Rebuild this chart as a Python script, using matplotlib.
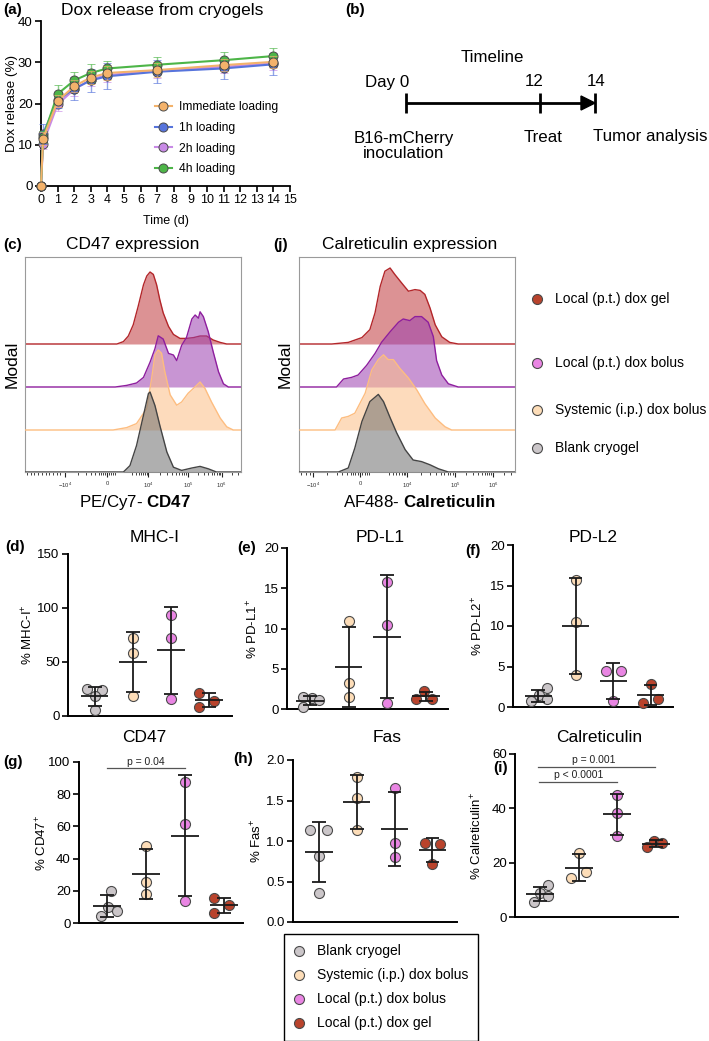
import numpy as np
import matplotlib
matplotlib.use("Agg")
import matplotlib.pyplot as plt
from matplotlib.lines import Line2D
from matplotlib.patches import Polygon

plt.rcParams.update({
    'font.family': ['Liberation Sans', 'DejaVu Sans'],
    'mathtext.fontset': 'custom',
    'mathtext.rm': 'Liberation Sans',
    'mathtext.bf': 'Liberation Sans:bold',
    'mathtext.it': 'Liberation Sans:italic',
    'axes.linewidth': 1.3,
})

# ---------------- DATA ----------------
# (a) Dox release
RELEASE_T = [0, 0.125, 1, 2, 3, 4, 7, 11, 14]
REL_IMM = [0, 11.5, 20.6, 24.2, 26.3, 27.4, 28.1, 29.3, 30.1]
REL_1H = [0, 12.7, 20.8, 23.6, 25.6, 26.6, 27.7, 28.5, 29.5]
REL_2H = [0, 10.3, 19.8, 23.4, 25.8, 26.9, 27.9, 28.9, 29.7]
REL_4H = [0, 11.9, 22.3, 25.6, 27.4, 28.5, 29.4, 30.5, 31.5]
SD_IMM = [0, 1.5, 1.4, 1.5, 1.5, 1.6, 1.6, 1.5, 1.5]
SD_1H = [0, 2.4, 1.8, 2.8, 2.8, 3.2, 2.8, 2.6, 2.7]
SD_2H = [0, 1.4, 1.5, 1.5, 1.6, 1.6, 1.6, 1.5, 1.5]
SD_4H = [0, 1.5, 2.2, 2.0, 2.1, 1.9, 1.9, 2.0, 1.9]
RELEASE_LABELS = ['Immediate loading', '1h loading', '2h loading', '4h loading']

# (b) timeline
TIMELINE_DAYS = ['Day 0', '12', '14']
TIMELINE_EVENTS = ['B16-mCherry\ninoculation', 'Treat', 'Tumor analysis']

# groups
GROUPS = ['Blank cryogel', 'Systemic (i.p.) dox bolus', 'Local (p.t.) dox bolus', 'Local (p.t.) dox gel']

# (c) CD47 histograms: position (biex display units) and % of mode
CD47_GEL_U = [0.24, 0.40, 0.52, 0.64, 0.76, 0.89, 0.97, 1.05, 1.13, 1.21, 1.29, 1.37, 1.50, 1.62, 1.78, 1.94, 2.11, 2.27, 2.43, 2.59, 2.76, 2.92]
CD47_GEL_H = [0, 3, 10, 24, 47, 74, 85, 90, 87, 74, 55, 39, 22, 12, 7, 7, 8, 10, 10, 5, 2, 0]
CD47_BOL_U = [0.20, 0.48, 0.72, 0.89, 1.05, 1.17, 1.25, 1.37, 1.50, 1.62, 1.70, 1.82, 1.94, 2.07, 2.15, 2.23, 2.27, 2.35, 2.47, 2.59, 2.72, 2.84, 2.96]
CD47_BOL_H = [0, 2, 5, 12, 31, 48, 64, 60, 42, 40, 33, 52, 62, 85, 90, 86, 94, 88, 69, 44, 19, 4, 0]
CD47_SYS_U = [0.15, 0.48, 0.72, 0.97, 1.09, 1.17, 1.25, 1.33, 1.41, 1.54, 1.70, 1.82, 1.98, 2.15, 2.27, 2.39, 2.55, 2.76, 2.92, 3.08]
CD47_SYS_H = [0, 3, 8, 27, 65, 94, 100, 96, 73, 44, 31, 35, 46, 54, 60, 52, 35, 15, 4, 0]
CD47_BLK_U = [0.40, 0.56, 0.72, 0.89, 1.01, 1.05, 1.17, 1.29, 1.46, 1.62, 1.82, 2.07, 2.27, 2.47, 2.67]
CD47_BLK_H = [0, 8, 33, 71, 98, 100, 83, 58, 25, 6, 2, 5, 7, 4, 0]

# (j) Calreticulin histograms
CRT_GEL_U = [-0.6, -0.25, 0.04, 0.21, 0.32, 0.43, 0.53, 0.64, 0.74, 0.89, 1.03, 1.17, 1.28, 1.38, 1.49, 1.60, 1.74, 1.91, 2.09]
CRT_GEL_H = [0, 2, 8, 18, 39, 72, 91, 95, 87, 76, 66, 68, 67, 62, 45, 24, 9, 2, 0]
CRT_BOL_U = [-0.5, -0.35, -0.18, -0.04, 0.14, 0.32, 0.46, 0.64, 0.82, 0.92, 1.06, 1.17, 1.31, 1.45, 1.56, 1.63, 1.74, 1.88, 2.09]
CRT_BOL_H = [0, 10, 12, 15, 27, 42, 56, 69, 81, 85, 83, 88, 88, 81, 63, 33, 15, 4, 0]
CRT_SYS_U = [-0.53, -0.39, -0.25, -0.11, 0.11, 0.25, 0.39, 0.50, 0.60, 0.71, 0.85, 1.03, 1.21, 1.38, 1.60, 1.81, 1.95]
CRT_SYS_H = [0, 15, 17, 21, 46, 75, 88, 94, 88, 88, 77, 65, 50, 33, 15, 4, 0]
CRT_BLK_U = [-0.46, -0.25, -0.11, 0.04, 0.21, 0.39, 0.50, 0.64, 0.78, 0.96, 1.13, 1.31, 1.49, 1.67, 1.88]
CRT_BLK_H = [0, 5, 30, 63, 88, 97, 88, 68, 49, 28, 15, 13, 9, 4, 0]

FLOW_TICKLABELS = ['$-10^4$', '0', '$10^4$', '$10^5$', '$10^6$']

# (d)-(i) scatter values per group [blank, systemic, local bolus, local gel]
MHC = [[24.8, 23.9, 18.6, 5.3], [72.5, 58.0, 18.6], [93.6, 72.5, 16.1], [21.4, 14.0, 8.4]]
PDL1 = [[1.45, 1.33, 1.16, 0.25], [10.9, 3.2, 1.5], [15.8, 10.4, 0.8], [2.2, 1.25, 1.25]]
PDL2 = [[0.7, 1.44, 2.35, 1.03], [15.7, 10.5, 3.9], [4.5, 4.45, 0.7], [2.9, 1.03, 0.5]]
CD47 = [[19.9, 9.7, 7.7, 4.3], [47.6, 25.5, 18.2], [87.6, 61.3, 13.7], [15.7, 11.0, 6.4]]
FAS = [[1.14, 1.14, 0.81, 0.36], [1.79, 1.53, 1.13], [1.66, 0.98, 0.80], [0.98, 0.96, 0.72]]
CALR = [[5.5, 9.0, 11.7, 7.8], [23.7, 14.2, 16.6], [45.0, 38.4, 29.8], [28.1, 27.1, 25.6]]

# ---------------- STYLE ----------------
W, H = 709, 1041
fig = plt.figure(figsize=(W / 100, H / 100), dpi=100)


def rect(l, t, r, b):
    return [l / W, 1 - b / H, (r - l) / W, (b - t) / H]


ov = fig.add_axes([0, 0, 1, 1], zorder=10)
ov.set_xlim(0, W)
ov.set_ylim(H, 0)
ov.axis('off')
ov.patch.set_visible(False)


def ftext(x, y, s, **kw):
    kw.setdefault('ha', 'center')
    kw.setdefault('va', 'center')
    ov.text(x, y, s, **kw)


GROUP_COLORS = ['#CBC6C9', '#FDDDB8', '#E985E3', '#B9432C']
EDGE = '#4a4a4a'

# ---------------- (a) ----------------
ax = fig.add_axes(rect(41, 21, 290, 186))
rel_series = [REL_IMM, REL_1H, REL_2H, REL_4H]
rel_sd = [SD_IMM, SD_1H, SD_2H, SD_4H]
rel_cols = ['#F3B26B', '#5774DC', '#C88AE6', '#4DB548']
rel_z = [6, 4, 3, 5]
handles = []
for vals, sd, c, z, lab in zip(rel_series, rel_sd, rel_cols, rel_z, RELEASE_LABELS):
    eb = ax.errorbar(RELEASE_T, vals, yerr=sd, color=c, lw=1.5, marker='o', ms=6.5,
                     mfc=c, mec=EDGE, mew=0.7, ecolor=c, elinewidth=1.0, capsize=3,
                     capthick=1.0, zorder=z)
    for a in list(eb[1]) + list(eb[2]):
        a.set_alpha(0.65)
    for a in eb.get_children():
        a.set_clip_on(False)
    handles.append(Line2D([], [], color=c, lw=1.5, marker='o', ms=6.5, mfc=c, mec=EDGE, mew=0.7))
ax.set_xlim(0, 15)
ax.set_ylim(0, 40)
ax.set_xticks(range(16))
ax.set_yticks([0, 10, 20, 30, 40])
ax.tick_params(axis='x', labelsize=9, length=4, width=1.2, pad=2)
ax.tick_params(axis='y', labelsize=9.5, length=4, width=1.2, pad=2)
ax.spines['top'].set_visible(False)
ax.spines['right'].set_visible(False)
ax.set_xlabel('Time (d)', fontsize=9, labelpad=6)
ftext(12, 103, 'Dox release (%)', fontsize=9.7, rotation=90)
ax.legend(handles, RELEASE_LABELS, loc='upper left', bbox_to_anchor=(155 / W, 1 - 101 / H),
          bbox_transform=fig.transFigure, frameon=False, fontsize=8.7, borderpad=0,
          borderaxespad=0, handlelength=1.4, handletextpad=0.6, labelspacing=0.73)
ftext(162, 10, 'Dox release from cryogels', fontsize=12.5)
ftext(3, 10, '(a)', fontsize=11, fontweight='bold', ha='left')

# ---------------- (b) ----------------
ftext(345, 10, '(b)', fontsize=11, fontweight='bold', ha='left')
TL_X = [406, 540, 595]  # schematic (not-to-scale) positions
TL_Y = 103
ov.plot([TL_X[0], TL_X[2] - 10], [TL_Y, TL_Y], color='black', lw=2, solid_capstyle='butt')
for x in TL_X:
    ov.plot([x, x], [TL_Y - 10, TL_Y + 10], color='black', lw=2, solid_capstyle='butt')
ov.add_patch(Polygon([(TL_X[2] - 14, TL_Y - 7), (TL_X[2], TL_Y), (TL_X[2] - 14, TL_Y + 7)],
                     closed=True, color='black'))
ftext(492, 57, 'Timeline', fontsize=12.2)
ftext(387, 82, TIMELINE_DAYS[0], fontsize=12.2)
ftext(534, 82, TIMELINE_DAYS[1], fontsize=12.2)
ftext(596, 82, TIMELINE_DAYS[2], fontsize=12.2)
ftext(404, 146, TIMELINE_EVENTS[0], fontsize=12.2, linespacing=1.05)
ftext(543, 137, TIMELINE_EVENTS[1], fontsize=12.2)
ftext(593, 137, TIMELINE_EVENTS[2], fontsize=12.2, ha='left')

# ---------------- (c) & (j) ----------------
HIST_LINE = ['#B3262A', '#8E1E9E', '#FDBD80', '#444444']
HIST_FILL = ['#C0393D', '#9B3FAF', '#FDBF85', '#6E6E6E']
BASES = [128, 85, 42, 0]
SCALE = 0.8


def flow_panel(l, t, r, b, u0, unit, tick_pos, curves):
    ax = fig.add_axes(rect(l, t, r, b))
    xmin, xmax = (l - u0) / unit, (r - u0) / unit
    for k, (u, h) in enumerate(curves):
        xs = np.concatenate([[xmin], u, [xmax]])
        hs = np.concatenate([[0], h, [0]]) * SCALE + BASES[k]
        ax.fill_between(xs, BASES[k], hs, color=HIST_FILL[k], alpha=0.55, lw=0, zorder=1 + k)
        ax.plot(xs, hs, color=HIST_LINE[k], lw=1.0, zorder=1.5 + k)
    ax.set_xlim(xmin, xmax)
    ax.set_ylim(0, b - t)
    ax.set_yticks([])
    for s in ax.spines.values():
        s.set_color('#9a9a9a')
        s.set_linewidth(0.8)
    ax.set_xticks(tick_pos)
    ax.set_xticklabels(FLOW_TICKLABELS, fontsize=4.2, color='#333')
    ax.tick_params(axis='x', length=3.5, width=0.8, pad=3, color='#222')
    p = tick_pos
    minors = list(np.arange(xmin + 0.05, p[0] - 0.05, 0.09))
    minors += [p[0] + (p[1] - p[0]) * f for f in (0.3, 0.5, 0.62, 0.72)]
    minors += list(np.arange(-0.2, 0.21, 0.05))
    minors += [p[2] + np.log10(k / 10) * (p[2] - p[1]) * 0.75 for k in range(3, 10)]
    minors += [p[2] + np.log10(k) * (p[3] - p[2]) for k in range(2, 10)]
    minors += [p[3] + np.log10(k) * (p[4] - p[3]) for k in range(2, 10)]
    minors += [p[4] + np.log10(k) * (p[4] - p[3]) for k in range(2, 10)
               if p[4] + np.log10(k) * (p[4] - p[3]) < xmax]
    ax.set_xticks(minors, minor=True)
    ax.tick_params(axis='x', which='minor', length=2, width=0.6, color='#222')
    return ax


flow_panel(25, 257, 241, 472, 107, 41, [-1.02, 0, 1.0, 1.98, 2.80],
           [(CD47_GEL_U, CD47_GEL_H), (CD47_BOL_U, CD47_BOL_H),
            (CD47_SYS_U, CD47_SYS_H), (CD47_BLK_U, CD47_BLK_H)])
flow_panel(299, 257, 515, 472, 360, 47, [-0.99, 0, 1.0, 2.02, 2.83],
           [(CRT_GEL_U, CRT_GEL_H), (CRT_BOL_U, CRT_BOL_H),
            (CRT_SYS_U, CRT_SYS_H), (CRT_BLK_U, CRT_BLK_H)])
ftext(3, 245, '(c)', fontsize=11, fontweight='bold', ha='left')
ftext(133, 245, 'CD47 expression', fontsize=12.5)
ftext(273, 245, '(j)', fontsize=11, fontweight='bold', ha='left')
ftext(410, 245, 'Calreticulin expression', fontsize=12.5)
ftext(12, 364, 'Modal', fontsize=12.5, rotation=90)
ftext(285, 364, 'Modal', fontsize=12.5, rotation=90)
ftext(135, 502, 'PE/Cy7- $\\mathbf{CD47}$', fontsize=12.2)
ftext(419, 502, 'AF488- $\\mathbf{Calreticulin}$', fontsize=12.2)

# right legend
RL_Y = [299, 363, 410, 448]
for y, gi in zip(RL_Y, [3, 2, 1, 0]):
    ov.plot([537], [y], marker='o', ms=7.2, mfc=GROUP_COLORS[gi], mec=EDGE, mew=0.8)
    ftext(555, y, GROUPS[gi], fontsize=10, ha='left')

# ---------------- (d)-(i) ----------------


def scatter_panel(l, t, r, b, data, jit, ytop, yticks, yticklabels, ylabel, ylab_x, xlim):
    ax = fig.add_axes(rect(l, t, r, b))
    for i, (vals, jj, col) in enumerate(zip(data, jit, GROUP_COLORS)):
        v = np.array(vals, float)
        m, s = v.mean(), v.std(ddof=1)
        ax.scatter(i + np.array(jj), v, s=52, c=col, edgecolors=EDGE, linewidths=0.8,
                   zorder=3, clip_on=False)
        kw = dict(color='#1a1a1a', lw=1.3, zorder=4, solid_capstyle='butt', clip_on=False)
        ax.plot([i - 0.36, i + 0.36], [m, m], **kw)
        ax.plot([i, i], [m - s, m + s], **kw)
        ax.plot([i - 0.18, i + 0.18], [m + s, m + s], **kw)
        ax.plot([i - 0.18, i + 0.18], [m - s, m - s], **kw)
    ax.set_xlim(*xlim)
    ax.set_ylim(0, ytop)
    ax.set_xticks([])
    ax.set_yticks(yticks)
    ax.set_yticklabels(yticklabels)
    ax.tick_params(axis='y', labelsize=9.5, length=4, width=1.2, pad=2)
    ax.spines['top'].set_visible(False)
    ax.spines['right'].set_visible(False)
    ax.spines['left'].set_linewidth(1.4)
    ax.spines['bottom'].set_linewidth(1.4)
    ax.patch.set_visible(False)
    ftext(ylab_x, (t + b) / 2, ylabel, fontsize=9.5, rotation=90)
    return ax


J4a = [[-0.2, 0.2, 0, 0], [0, 0, 0], [0, 0, 0], [-0.26, 0.13, -0.26]]
scatter_panel(68, 554, 232, 716, MHC, J4a, 150, [0, 50, 100, 150], ['0', '50', '100', '150'],
              '% MHC-I$^{+}$', 28, (-0.7, 3.6))
J4b = [[-0.18, 0.06, 0.22, -0.18], [0, 0, 0], [0, 0, 0], [-0.04, -0.26, 0.16]]
scatter_panel(287, 548, 448, 709, PDL1, J4b, 20, [0, 5, 10, 15, 20], ['0', '5', '10', '15', '20'],
              '% PD-L1$^{+}$', 253, (-0.6, 3.58))
J4c = [[-0.19, 0.03, 0.23, 0.23], [0, 0, 0], [-0.2, 0.21, 0], [0, 0.2, -0.2]]
scatter_panel(513, 545, 673, 707, PDL2, J4c, 20, [0, 5, 10, 15, 20], ['0', '5', '10', '15', '20'],
              '% PD-L2$^{+}$', 478, (-0.67, 3.6))
J4d = [[0.09, 0.02, 0.26, -0.17], [0, 0, 0], [0, 0, 0], [-0.24, 0.15, -0.24]]
axg = scatter_panel(79, 762, 243, 923, CD47, J4d, 100, [0, 20, 40, 60, 80, 100],
                    ['0', '20', '40', '60', '80', '100'], '% CD47$^{+}$', 42, (-0.73, 3.5))
J4e = [[-0.23, 0.21, 0, 0], [0, 0, 0], [0, 0, 0], [-0.2, 0.2, 0]]
scatter_panel(293, 760, 457, 922, FAS, J4e, 2.0, [0, 0.5, 1.0, 1.5, 2.0],
              ['0.0', '0.5', '1.0', '1.5', '2.0'], '% Fas$^{+}$', 257, (-0.69, 3.65))
J4f = [[-0.15, 0, 0.21, 0.21], [0, -0.19, 0.18], [0, 0, 0], [-0.06, 0.15, -0.23]]
axi = scatter_panel(515, 754, 678, 917, CALR, J4f, 60, [0, 20, 40, 60], ['0', '20', '40', '60'],
                    '% Calreticulin$^{+}$', 477, (-0.64, 3.56))


def bracket(ax, x0, x1, y, tx, ty, txt):
    ax.plot([x0, x1], [y, y], color='#555', lw=0.9, clip_on=False)
    ax.text(tx, ty, txt, fontsize=7.5, ha='center', va='center', color='#222', clip_on=False)


bracket(axg, 0, 2, 96.3, 1.0, 99.8, 'p = 0.04')
bracket(axi, -0.05, 2.96, 55.2, 1.4, 57.9, 'p = 0.001')
bracket(axi, -0.03, 2.0, 49.6, 1.0, 52.1, 'p < 0.0001')

for x, y, s in [(5, 547, '(d)'), (237, 548, '(e)'), (465, 551, '(f)'),
                (3, 762, '(g)'), (233, 759, '(h)'), (493, 768, '(i)')]:
    ftext(x, y, s, fontsize=11, fontweight='bold', ha='left')
for x, y, s in [(155, 538, 'MHC-I'), (380, 538, 'PD-L1'), (593, 538, 'PD-L2'),
                (144, 738, 'CD47'), (387, 738, 'Fas'), (599, 738, 'Calreticulin')]:
    ftext(x, y, s, fontsize=12.5)

# bottom legend
lh = [Line2D([], [], ls='none', marker='o', ms=7.2, mfc=c, mec=EDGE, mew=0.8) for c in GROUP_COLORS]
leg = fig.legend(lh, GROUPS, loc='upper left', bbox_to_anchor=(284 / W, 1 - 934 / H),
                 fontsize=10, frameon=True, fancybox=False, framealpha=1, edgecolor='black',
                 borderpad=0.75, borderaxespad=0, handlelength=0.6, handletextpad=1.0,
                 labelspacing=0.72)
leg.get_frame().set_linewidth(1.0)

fig.savefig('out.png', dpi=100)
